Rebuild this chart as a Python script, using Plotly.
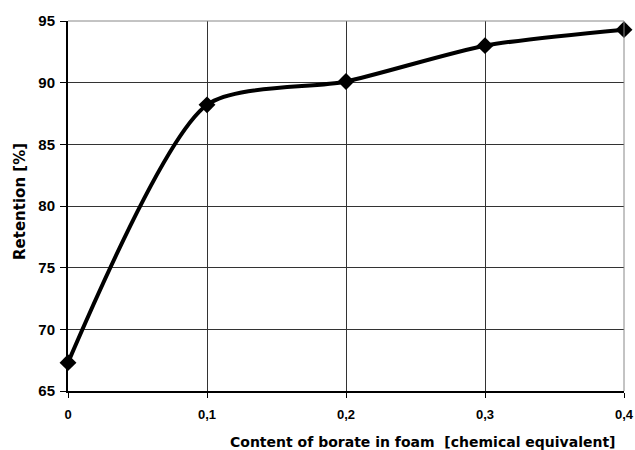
import plotly.graph_objects as go

x_vals = [0.0, 0.1, 0.2, 0.3, 0.4]
retention = [67.3, 88.2, 90.1, 93.0, 94.3]
x_tickvals = [0.0, 0.1, 0.2, 0.3, 0.4]
x_ticktext = ["0", "0,1", "0,2", "0,3", "0,4"]
y_tickvals = [65, 70, 75, 80, 85, 90, 95]
x_title = "Content of borate in foam  [chemical equivalent]"
y_title = "Retention [%]"

fig = go.Figure()
fig.add_trace(go.Scatter(
    x=x_vals, y=retention, mode="lines+markers",
    line=dict(color="black", width=4, shape="spline", smoothing=0.7),
    marker=dict(symbol="diamond", size=13, color="black"),
    cliponaxis=False, showlegend=False,
))

arial = "Liberation Sans, Arial, sans-serif"
wide = "DejaVu Sans, sans-serif"
fig.update_layout(
    width=635, height=450,
    margin=dict(l=68, r=11, t=21, b=59),
    plot_bgcolor="white", paper_bgcolor="white",
    font=dict(family=arial, color="black"),
    xaxis=dict(
        range=[0, 0.4], tickvals=x_tickvals, ticktext=x_ticktext,
        showgrid=True, gridcolor="#333333", gridwidth=1,
        showline=True, linecolor="black", linewidth=2, mirror=False,
        ticks="outside", ticklen=5, tickcolor="black", tickwidth=1,
        tickfont=dict(size=13, weight="bold", family=arial),
        ticklabelstandoff=5,
        zeroline=False, automargin=False, ticklabeloverflow="allow",
    ),
    yaxis=dict(
        range=[65, 95], tickvals=y_tickvals,
        showgrid=True, gridcolor="#333333", gridwidth=1,
        showline=True, linecolor="black", linewidth=2,
        ticks="outside", ticklen=6, tickcolor="black", tickwidth=1,
        tickfont=dict(size=15, weight="bold", family=arial),
        ticklabelstandoff=2,
        zeroline=False, automargin=False,
    ),
    shapes=[
        dict(type="line", xref="paper", yref="paper", x0=0, x1=1, y0=1, y1=1,
             line=dict(color="#888888", width=1)),
        dict(type="line", xref="paper", yref="paper", x0=1, x1=1, y0=0, y1=1,
             line=dict(color="#888888", width=1)),
    ],
    annotations=[
        dict(text=x_title, xref="paper", yref="paper", x=0.639, y=-0.137,
             xanchor="center", yanchor="middle", showarrow=False,
             font=dict(size=14, weight="bold", family=wide)),
        dict(text=y_title, xref="paper", yref="paper", x=-0.0863, y=0.511,
             xanchor="center", yanchor="middle", showarrow=False, textangle=-90,
             font=dict(size=15, weight="bold", family=wide)),
    ],
)

fig.write_html(
    "out.html",
    config={"displayModeBar": False},
    post_script="document.body.style.margin='0px';document.body.style.overflow='hidden';",
)
